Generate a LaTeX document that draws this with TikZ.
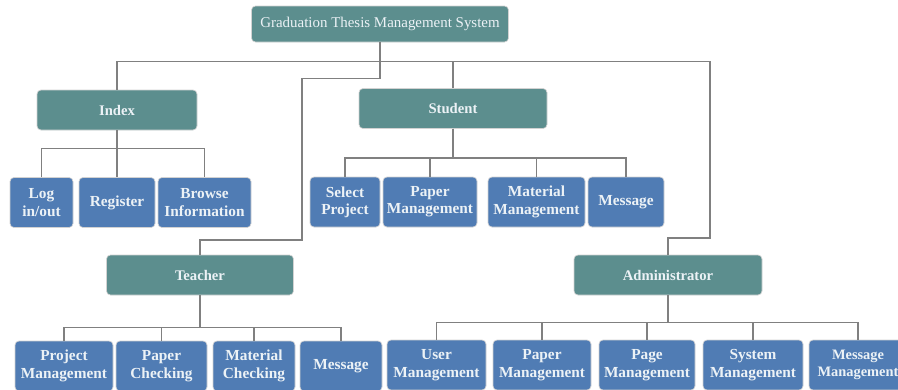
\documentclass[tikz,border=0pt]{standalone}
\usepackage{fontspec}
\setmainfont{Liberation Serif}
\definecolor{tealbox}{RGB}{92,142,142}
\definecolor{bluebox}{RGB}{80,124,180}
\definecolor{linegray}{RGB}{128,128,128}
\definecolor{boxtext}{RGB}{236,242,246}
\tikzset{
  base/.style={rounded corners=3pt, draw=gray!35, line width=0.5pt, text=boxtext, align=center, inner sep=1pt},
  root/.style={base, fill=tealbox, minimum width=257*0.75pt, minimum height=36*0.75pt, font=\fontsize{11.2}{13}\selectfont},
  grp/.style={base, fill=tealbox, minimum width=#1*0.75pt, minimum height=40*0.75pt, font=\bfseries\fontsize{11}{13}\selectfont},
  leaf/.style={base, fill=bluebox, minimum width=#1*0.75pt, minimum height=50*0.75pt, font=\bfseries\fontsize{11.5}{13}\selectfont},
  conn/.style={draw=linegray, line width=1.1pt}
}
\begin{document}
\begin{tikzpicture}[x=0.75pt,y=-0.75pt]
\useasboundingbox (0,0) rectangle (898,389);
\clip (0,0) rectangle (898,389);

\node[root] (root) at (380,24) {Graduation Thesis Management System};
\node[grp=160] (index) at (117,110) {Index};
\node[grp=188] (student) at (453,108.5) {Student};
\node[grp=187] (teacher) at (200,275) {Teacher};
\node[grp=188] (admin) at (668,275) {Administrator};

\node[leaf=63] (login) at (41.5,202.5) {Log\\in/out};
\node[leaf=76] (register) at (117,202.5) {Register};
\node[leaf=93] (browse) at (204.5,202.5) {Browse\\Information};

\node[leaf=70] (selproj) at (345,202) {Select\\Project};
\node[leaf=94] (stupaper) at (430,202) {Paper\\Management};
\node[leaf=97] (stumat) at (536.5,202) {Material\\Management};
\node[leaf=76] (stumsg) at (626,202) {Message};

\node[leaf=98] (tproj) at (64,366) {Project\\Management};
\node[leaf=91] (tpaper) at (161.5,366) {Paper\\Checking};
\node[leaf=82] (tmat) at (254,366) {Material\\Checking};
\node[leaf=82] (tmsg) at (341,366) {Message};

\node[leaf=99] (auser) at (436.5,365) {User\\Management};
\node[leaf=98] (apaper) at (542,365) {Paper\\Management};
\node[leaf=96] (apage) at (647,365) {Page\\Management};
\node[leaf=100] (asys) at (753,365) {System\\Management};
\node[leaf=98, font=\bfseries\fontsize{10.8}{13}\selectfont] (amsg) at (858,365) {Message\\Management};

\coordinate (tturn) at (302,240);
\coordinate (aturn) at (710,238);

\draw[conn] (root.south) -- ++(0,36) -| (tturn) -| (teacher.north);
\draw[conn] (index.north) -- ++(0,-28) -| (aturn) -| (admin.north);
\draw[conn] (student.north) -- ++(0,-26.5);

\foreach \c in {login,register,browse}
  \draw[conn] (index.south) -- ++(0,18) -| (\c.north);
\foreach \c in {selproj,stupaper,stumat,stumsg}
  \draw[conn] (student.south) -- ++(0,29) -| (\c.north);
\foreach \c in {tproj,tpaper,tmat,tmsg}
  \draw[conn] (teacher.south) -- ++(0,32) -| (\c.north);
\foreach \c in {auser,apaper,apage,asys,amsg}
  \draw[conn] (admin.south) -- ++(0,27) -| (\c.north);

\end{tikzpicture}
\end{document}
